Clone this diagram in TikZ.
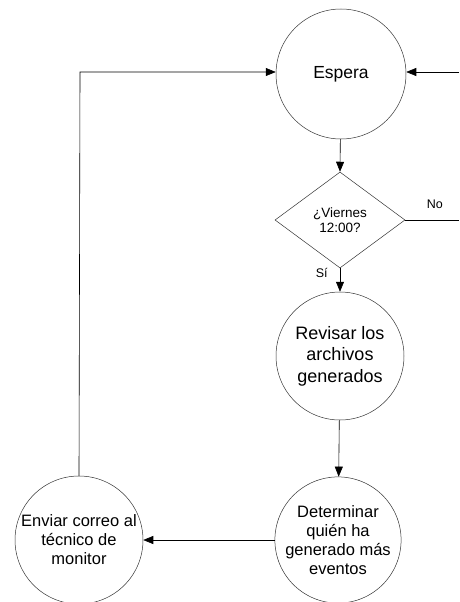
\documentclass[tikz,border=0pt]{standalone}
\usepackage{fontspec}
\setmainfont{Liberation Sans}
\usetikzlibrary{arrows.meta,shapes.geometric}
\begin{document}
\begin{tikzpicture}[x=1pt,y=-1pt,
  proc/.style={circle,draw=black!80,line width=0.5pt,minimum size=128pt,inner sep=0pt,
    align=center,font=\fontsize{16.5}{19}\selectfont},
  decision/.style={diamond,draw=black!80,line width=0.5pt,minimum width=130pt,minimum height=96pt,
    inner sep=0pt,aspect=1.35,align=center,font=\fontsize{13.5}{15}\selectfont},
  flow/.style={line width=0.6pt,-{Triangle[length=10pt,width=8pt]}},
  plain/.style={line width=0.6pt},
  lbl/.style={font=\fontsize{12.5}{15}\selectfont,inner sep=0pt}]
  \useasboundingbox (0,0) rectangle (459,602);

  % process circles and the decision
  \node[proc,minimum size=130pt,font=\fontsize{17.5}{20}\selectfont] (espera) at (341,74) {Espera};
  \node[decision] (viernes) at (340,220) {¿Viernes\\12:00?};
  \node[proc,minimum size=128pt,font=\fontsize{18}{21.5}\selectfont] (revisar) at (340,356) {Revisar los\\archivos\\generados};
  \node[proc,minimum size=126pt] (determinar) at (338,540) {Determinar\\quién ha\\generado más\\eventos};
  \node[proc,minimum size=128pt] (enviar) at (79,540) {Enviar correo al\\técnico de\\monitor};

  % free ends on the right border
  \coordinate (retorno) at (459,72);
  \coordinate (salidano) at (459,220);
  \coordinate (esquina) at (80,72);

  % connectors
  \draw[flow] (espera) -- (viernes.north);
  \draw[flow] (viernes.south) -- node[lbl,left=12pt,pos=0.2] {Sí} (revisar);
  \draw[flow] (revisar) -- (determinar);
  \draw[flow] (determinar) -- (enviar);
  \draw[flow] (enviar.north) -- (esquina) -- (espera.west |- esquina);
  \draw[flow] (retorno) -- (espera.east |- retorno);
  \draw[plain] (viernes.east) -- node[lbl,above=11pt,pos=0.55] {No} (salidano);
\end{tikzpicture}
\end{document}
